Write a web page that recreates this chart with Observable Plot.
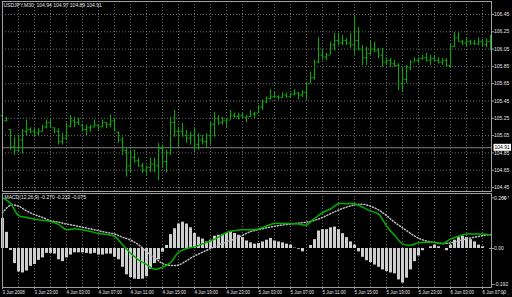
<!DOCTYPE html>
<html><head><meta charset="utf-8">
<script src="https://cdn.jsdelivr.net/npm/d3@7"></script>
<script src="https://cdn.jsdelivr.net/npm/@observablehq/plot@0.6"></script>
<style>
html,body{margin:0;padding:0;background:#000;}
#chart{position:relative;width:512px;height:297px;background:#000;overflow:hidden;}
#chart svg{position:absolute;left:0;display:block;}
</style></head><body><div id="chart"></div>
<script>
const title = "USDJPY,M30  104.94 104.97 104.89 104.91";
const macdTitle = "MACD(12,26,9) -0.270 -0.232 -0.075";
const lastPrice = 104.91;
const timeLabels = ["3 Jun 2008","3 Jun 23:00","4 Jun 03:00","4 Jun 07:00","4 Jun 11:00","4 Jun 15:00","4 Jun 19:00","4 Jun 23:00","5 Jun 03:00","5 Jun 07:00","5 Jun 11:00","5 Jun 15:00","5 Jun 19:00","5 Jun 23:00","6 Jun 03:00","6 Jun 07:00"];
const labelIdx = [0,8,16,24,32,40,48,56,64,72,80,88,96,104,112,120];
const gridIdx = [0,4,8,12,16,20,24,28,32,36,40,44,48,52,56,60,64,68,72,76,80,84,88,92,96,100,104,108,112,116,120];
const priceTicks = [104.45,104.65,104.85,105.05,105.25,105.45,105.65,105.85,106.05,106.25,106.45];
const macdTicks = [0.269, 0, -0.192];

const high = [105.31,105.26,105.12,105.03,105.05,105.12,105.23,105.14,105.13,105.13,
105.17,105.23,105.24,105.14,105.13,105.07,105.19,105.28,105.26,105.25,
105.17,105.17,105.17,105.23,105.17,105.23,105.20,105.29,105.25,105.09,
105.03,104.90,104.88,104.88,104.79,104.73,104.70,104.79,104.79,104.96,
104.94,104.88,105.26,105.34,105.14,105.19,105.11,105.09,105.14,105.07,
105.05,105.07,105.20,105.32,105.28,105.26,105.25,105.34,105.31,105.31,
105.31,105.28,105.34,105.32,105.40,105.46,105.50,105.58,105.55,105.51,
105.55,105.54,105.54,105.58,105.55,105.57,105.66,105.78,105.92,106.18,
106.05,106.00,106.13,106.23,106.23,106.21,106.17,106.23,106.44,106.30,
106.09,106.07,106.15,106.13,106.06,106.06,105.95,105.94,105.92,105.88,
105.84,105.86,105.92,105.95,105.95,105.98,106.00,105.98,105.98,105.95,
105.94,105.94,106.11,106.24,106.24,106.15,106.18,106.15,106.15,106.18,
106.16,106.17,106.21];
const low = [105.20,105.21,104.88,104.82,104.86,104.84,105.05,105.07,105.03,105.05,
105.09,105.13,105.13,105.07,104.94,104.94,104.99,105.14,105.14,105.17,
105.09,105.05,105.09,105.14,105.11,105.14,105.13,105.14,105.09,104.96,
104.82,104.57,104.62,104.73,104.68,104.61,104.59,104.62,104.62,104.53,
104.67,104.62,104.82,105.03,104.91,105.03,104.96,104.94,104.86,104.88,
104.94,104.90,104.94,105.03,105.17,105.17,105.14,105.23,105.25,105.23,
105.25,105.20,105.26,105.25,105.31,105.34,105.42,105.46,105.48,105.46,
105.48,105.48,105.48,105.51,105.46,105.49,105.46,105.65,105.69,105.88,
105.92,105.92,105.98,106.03,106.09,106.09,106.09,106.06,105.98,106.03,
105.86,105.86,105.98,106.01,105.94,105.84,105.86,105.84,105.84,105.57,
105.55,105.65,105.80,105.90,105.88,105.92,105.90,105.86,105.90,105.88,
105.86,105.84,105.84,106.07,106.13,106.09,106.07,106.09,106.09,106.09,
106.07,106.07,106.03];
const open = [105.28,105.22,105.12,104.92,104.88,105.00,105.10,105.12,105.10,105.08,
105.10,105.15,105.20,105.14,105.10,104.98,105.02,105.16,105.22,105.20,
105.17,105.12,105.14,105.15,105.17,105.15,105.20,105.18,105.22,105.09,
105.00,104.88,104.70,104.80,104.76,104.70,104.65,104.68,104.72,104.70,
104.90,104.75,104.85,105.20,105.10,105.10,105.05,105.02,105.05,104.95,
105.00,104.98,105.05,105.18,105.25,105.20,105.22,105.23,105.28,105.27,
105.28,105.26,105.27,105.30,105.31,105.38,105.44,105.48,105.50,105.50,
105.49,105.52,105.50,105.53,105.54,105.52,105.55,105.65,105.72,105.90,
105.98,105.96,105.98,106.10,106.15,106.12,106.15,106.12,106.10,106.15,
106.05,105.95,106.00,106.05,106.03,105.98,105.90,105.92,105.88,105.86,
105.65,105.70,105.84,105.90,105.92,105.94,105.95,105.92,105.94,105.92,
105.90,105.92,105.86,106.08,106.18,106.14,106.12,106.14,106.12,106.11,
106.14,106.10,106.14];
const close = [105.22,105.23,104.92,104.88,105.00,105.10,105.12,105.10,105.08,105.10,
105.15,105.20,105.15,105.10,104.98,105.02,105.16,105.22,105.20,105.18,
105.12,105.14,105.15,105.18,105.15,105.20,105.18,105.22,105.12,105.00,
104.88,104.70,104.80,104.76,104.70,104.65,104.68,104.72,104.70,104.90,
104.75,104.85,105.20,105.10,105.10,105.05,105.02,105.05,104.95,105.00,
104.98,105.05,105.18,105.25,105.20,105.22,105.23,105.28,105.27,105.28,
105.26,105.27,105.30,105.30,105.38,105.44,105.48,105.50,105.50,105.49,
105.52,105.50,105.53,105.54,105.52,105.55,105.64,105.72,105.90,105.98,
105.96,105.98,106.10,106.15,106.12,106.15,106.12,106.10,106.15,106.05,
105.95,106.00,106.05,106.03,105.98,105.90,105.92,105.88,105.86,105.65,
105.70,105.84,105.90,105.92,105.94,105.95,105.92,105.94,105.92,105.90,
105.92,105.86,106.08,106.18,106.14,106.12,106.14,106.12,106.11,106.14,
106.10,106.14,106.08];

const hist = [0.16,0.086,-0.01,-0.08,-0.125,-0.13,-0.12,-0.095,-0.085,-0.063,
-0.05,-0.026,-0.026,-0.03,-0.06,-0.07,-0.05,-0.035,-0.023,-0.023,
-0.023,-0.026,-0.03,-0.026,-0.035,-0.035,-0.03,-0.03,-0.047,-0.06,
-0.1,-0.14,-0.155,-0.163,-0.165,-0.163,-0.15,-0.11,-0.08,-0.06,
-0.02,0.016,0.074,0.105,0.13,0.14,0.13,0.11,0.08,0.06,
0.05,0.035,0.044,0.065,0.07,0.075,0.08,0.088,0.08,0.07,
0.058,0.04,0.03,0.023,
0.026,0.035,0.044,0.053,0.04,0.035,0.03,0.023,0.018,0.002,
-0.004,-0.018,0,0.016,0.047,0.093,0.1,0.1,0.11,0.114,
0.1,0.079,0.058,0.035,0.018,-0.018,-0.047,-0.065,-0.075,-0.088,
-0.1,-0.114,-0.123,-0.13,-0.135,-0.167,-0.184,-0.158,-0.114,-0.07,
-0.04,-0.012,0,0.009,0.018,0.009,0,-0.012,0.018,0.044,
0.058,0.065,0.058,0.047,0.035,0.018,0.009,0,-0.004];

const lineIdx = [0,2,4,6,8,10,12,14,16,18,20,22,24,26,28,30,32,34,36,38,40,42,44,46,48,50,52,54,56,58,60,62,64,66,68,70,72,74,76,78,80,82,84,86,88,90,92,94,96,98,100,102,104,106,108,110,112,114,116,118,120,122];
const macdLine = [0.27,0.24,0.175,0.165,0.156,0.15,0.144,0.128,0.1,0.105,
0.098,0.09,0.08,0.075,0.065,0.02,-0.025,-0.06,-0.085,-0.11,
-0.1,-0.075,-0.02,0.0,0.008,0.025,0.04,0.06,0.085,0.095,
0.1,0.1,0.104,0.12,0.133,0.133,0.133,0.13,0.125,0.16,
0.19,0.21,0.238,0.238,0.238,0.22,0.2,0.183,0.12,0.07,
0.025,0.018,0.03,0.033,0.033,0.025,0.05,0.065,0.077,0.077,
0.077,0.072];
const signalLine = [0.19,0.23,0.225,0.2,0.18,0.165,0.148,0.14,0.13,0.122,
0.113,0.104,0.095,0.085,0.077,0.06,0.045,0.02,-0.018,-0.048,
-0.08,-0.09,-0.088,-0.065,-0.04,-0.02,0.0,0.018,0.035,0.05,
0.07,0.09,0.1,0.11,0.118,0.125,0.13,0.135,0.14,0.15,
0.165,0.185,0.204,0.22,0.232,0.235,0.225,0.205,0.175,0.14,
0.11,0.08,0.055,0.04,0.032,0.027,0.03,0.04,0.052,0.06,
0.068,0.075];

const bars = high.map((h, i) => ({i, h, l: low[i], o: open[i], c: close[i]}));
const histData = hist.map((v, i) => ({i, v}));
const macdData = lineIdx.map((i, k) => ({i, v: macdLine[k]}));
const signalData = lineIdx.map((i, k) => ({i, v: signalLine[k]}));

const green = "#00b000";
const gridColor = "#6c6c6c";
const frameColor = "#a0a0a0";
const font = "Liberation Sans, Arial, sans-serif";
const baseStyle = {background: "#000", color: "#e6e6e6", fontFamily: font, overflow: "visible"};

const p1 = Plot.plot({
  width: 512, height: 192,
  marginLeft: 2, marginRight: 21, marginTop: 1, marginBottom: 1,
  style: baseStyle,
  x: {domain: [0, 122], range: [2, 490], axis: null},
  y: {domain: [104.45, 106.45], range: [187, 14], axis: null},
  marks: [
    Plot.gridX(gridIdx, {stroke: gridColor, strokeOpacity: 1, strokeDasharray: "1,2"}),
    Plot.gridY(priceTicks, {stroke: gridColor, strokeOpacity: 1, strokeDasharray: "1,2"}),
    Plot.ruleY([lastPrice], {stroke: "#808080"}),
    Plot.ruleX(bars, {x: "i", y1: "l", y2: "h", stroke: green}),
    Plot.ruleY(bars, {y: "o", x1: d => d.i - 0.4, x2: "i", stroke: green}),
    Plot.ruleY(bars, {y: "c", x1: "i", x2: d => d.i + 0.4, stroke: green}),
    Plot.axisY(priceTicks, {anchor: "right", tickSize: 2, tickPadding: 0.5, fontSize: 5, tickFormat: d => d.toFixed(2), stroke: frameColor}),
    Plot.text([title], {frameAnchor: "top-left", dx: 1, dy: 1.5, textAnchor: "start", fontSize: 5, fill: "#e6e6e6"}),
    Plot.text([lastPrice], {y: d => d, frameAnchor: "right", dx: 3, textAnchor: "start", fontSize: 5, fill: "#000", text: d => d.toFixed(2), className: "lastlbl"}),
    Plot.frame({stroke: frameColor})
  ]
});

const p2 = Plot.plot({
  width: 512, height: 105,
  marginLeft: 2, marginRight: 21, marginTop: 1, marginBottom: 10,
  style: baseStyle,
  x: {domain: [0, 122], range: [2, 490], axis: null},
  y: {domain: [-0.192, 0.269], range: [92.1, 5.4], axis: null},
  marks: [
    Plot.gridX(gridIdx, {stroke: gridColor, strokeOpacity: 1, strokeDasharray: "1,2"}),
    Plot.ruleX(histData, {x: "i", y1: 0, y2: "v", stroke: "#cfcfcf", strokeWidth: 3}),
    Plot.line(signalData, {x: "i", y: "v", stroke: "#bdbdbd", strokeDasharray: "1,2", curve: "catmull-rom"}),
    Plot.line(macdData, {x: "i", y: "v", stroke: green, curve: "catmull-rom"}),
    Plot.axisY(macdTicks, {anchor: "right", tickSize: 2, tickPadding: 0.5, fontSize: 5, tickFormat: d => d === 0 ? "0.00" : d.toFixed(3), stroke: frameColor}),
    Plot.axisX(labelIdx, {anchor: "bottom", tickSize: 2, tickPadding: 1, fontSize: 4.5, textAnchor: "start", tickFormat: d => timeLabels[labelIdx.indexOf(d)], stroke: frameColor}),
    Plot.text([macdTitle], {frameAnchor: "top-left", dx: 2, dy: 1.5, textAnchor: "start", fontSize: 5, fill: "#e6e6e6"}),
    Plot.frame({stroke: frameColor})
  ]
});

const chart = document.getElementById("chart");
p1.style.top = "0px";
p2.style.top = "192px";
chart.appendChild(p1);
chart.appendChild(p2);

// white box behind the current-price label
const lbl = p1.querySelector("g.lastlbl text");
if (lbl) {
  const bb = lbl.getBBox();
  const rect = document.createElementNS("http://www.w3.org/2000/svg", "rect");
  rect.setAttribute("x", bb.x - 1);
  rect.setAttribute("y", bb.y - 0.5);
  rect.setAttribute("width", bb.width + 2);
  rect.setAttribute("height", bb.height + 1);
  rect.setAttribute("fill", "#fff");
  const tr = lbl.getAttribute("transform");
  if (tr) rect.setAttribute("transform", tr);
  lbl.parentNode.insertBefore(rect, lbl);
}
</script></body></html>
